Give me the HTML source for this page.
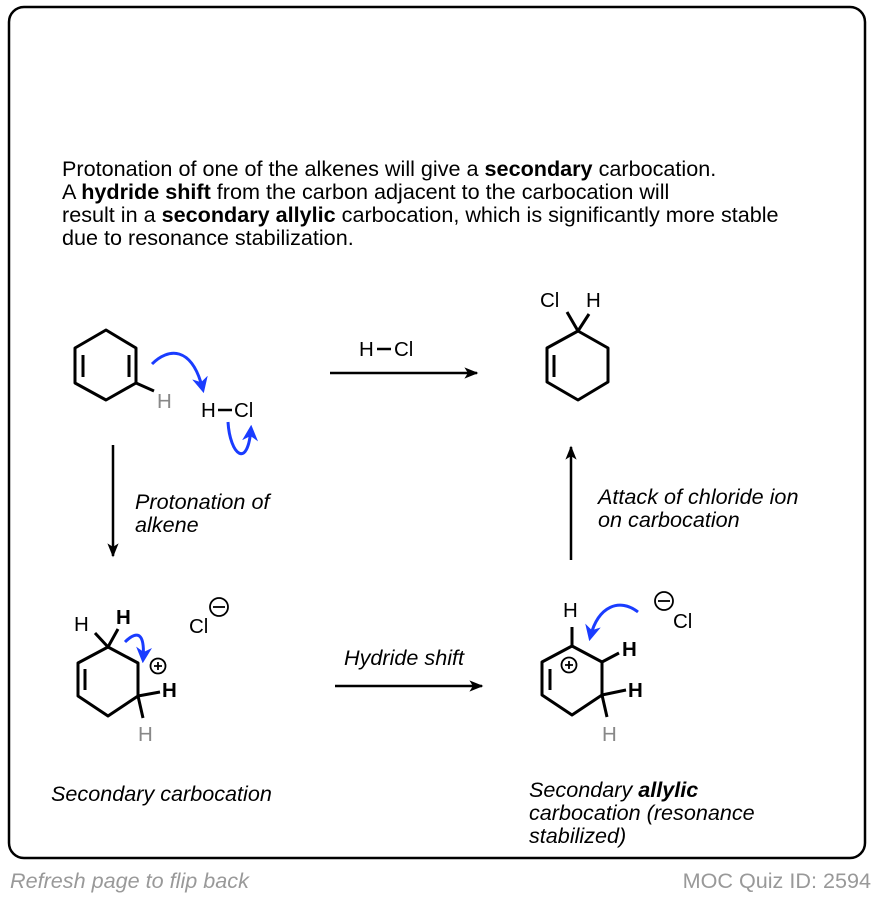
<!DOCTYPE html>
<html><head><meta charset="utf-8"><style>
body{margin:0;background:#fff;width:876px;height:898px;overflow:hidden}
svg{display:block}
text{font-family:"Liberation Sans",Arial,sans-serif}
</style></head><body>
<svg width="876" height="898" viewBox="0 0 876 898">
<defs>
<marker id="ah" viewBox="0 0 10 10" refX="9" refY="5" markerWidth="18" markerHeight="14" markerUnits="userSpaceOnUse" orient="auto"><path d="M0,1 L10,5 L0,9 L2.5,5 Z" fill="#000"/></marker>
<marker id="bh" viewBox="0 0 10 10" refX="8" refY="5" markerWidth="16" markerHeight="16" markerUnits="userSpaceOnUse" orient="auto"><path d="M0,0 L10,5 L0,10 L3,5 Z" fill="#1a3cff"/></marker>
</defs>
<rect x="9" y="7" width="856" height="851" rx="15" fill="none" stroke="#000" stroke-width="2.5"/>
<g font-size="21.6" fill="#000">
<text x="62" y="176">Protonation of one of the alkenes will give a <tspan font-weight="bold">secondary</tspan> carbocation.</text>
<text x="62" y="199">A <tspan font-weight="bold">hydride shift</tspan> from the carbon adjacent to the carbocation will</text>
<text x="62" y="222">result in a <tspan font-weight="bold">secondary allylic</tspan> carbocation, which is significantly more stable</text>
<text x="62" y="245">due to resonance stabilization.</text>
</g>
<g stroke="#000" stroke-width="3" fill="none" stroke-linejoin="round">
<path d="M106,330 L136,348 L136,383 L106,400 L75,383 L75,348 Z"/>
<path d="M83,355 L83,377 M129,355 L129,377"/>
<path d="M136,383 L154,391"/>
<path d="M578,331 L608,348 L608,382 L578,400 L547,382 L547,348 Z"/>
<path d="M554,355 L554,377 M578,331 L567,312 M578,331 L589,314"/>
<path d="M108,647 L138,663 L138,696 L108,716 L78,696 L78,663 Z"/>
<path d="M85,669 L85,690 M108,647 L95,633 M108,647 L118,629 M138,696 L160,692 M138,696 L143,718"/>
<path d="M572,646 L602,662 L602,695 L572,715 L542,695 L542,662 Z"/>
<path d="M550,669 L550,690 M572,646 L572,627 M602,662 L619,653 M602,695 L626,690 M602,695 L607,717"/>
</g>
<g stroke="#000" stroke-width="2.5" fill="none">
<path d="M330,373 L477,373" marker-end="url(#ah)"/>
<path d="M113,445 L113,556" marker-end="url(#ah)"/>
<path d="M571,560 L571,447" marker-end="url(#ah)"/>
<path d="M335,686 L482,686" marker-end="url(#ah)"/>
</g>
<g stroke="#1a3cff" stroke-width="3" fill="none">
<path d="M152,364 C168,348 192,345 203,390" marker-end="url(#bh)"/>
<path d="M228,422 C230,455 248,470 251,428" marker-end="url(#bh)"/>
<path d="M125,642 C132,635 146,625 143,660" marker-end="url(#bh)"/>
<path d="M638,612 C620,598 598,605 590,638" marker-end="url(#bh)"/>
</g>
<g font-size="20.5" fill="#000">
<text x="157" y="408" fill="#888">H</text>
<text x="201" y="417">H</text><path d="M218,410 L232,410" stroke="#000" stroke-width="2.5"/><text x="234" y="417">Cl</text>
<text x="359" y="356">H</text><path d="M377,349 L391,349" stroke="#000" stroke-width="2.5"/><text x="394" y="356">Cl</text>
<text x="540" y="307">Cl</text><text x="586" y="307">H</text>
<text x="74" y="631">H</text><text x="116" y="624" font-weight="bold">H</text>
<text x="162" y="697" font-weight="bold">H</text><text x="138" y="741" fill="#888">H</text>
<text x="189" y="633">Cl</text>
<text x="563" y="617">H</text><text x="622" y="656" font-weight="bold">H</text>
<text x="628" y="697" font-weight="bold">H</text><text x="602" y="741" fill="#888">H</text>
<text x="673" y="628">Cl</text>
</g>
<g stroke="#000" stroke-width="1.8" fill="none">
<circle cx="219" cy="607" r="9"/><path d="M213,607 L225,607"/>
<circle cx="158" cy="666" r="7.5"/><path d="M154,666 L162,666 M158,662 L158,670"/>
<circle cx="569" cy="665" r="7.5"/><path d="M565,665 L573,665 M569,661 L569,669"/>
<circle cx="664" cy="601" r="9"/><path d="M658,601 L670,601"/>
</g>
<g font-size="21.6" font-style="italic" fill="#000">
<text x="135" y="509">Protonation of</text>
<text x="135" y="532">alkene</text>
<text x="598" y="504">Attack of chloride ion</text>
<text x="598" y="527">on carbocation</text>
<text x="344" y="665">Hydride shift</text>
<text x="51" y="801">Secondary carbocation</text>
<text x="529" y="797">Secondary <tspan font-weight="bold">allylic</tspan></text>
<text x="529" y="820">carbocation (resonance</text>
<text x="529" y="843">stabilized)</text>
</g>
<text x="10" y="888" font-size="21.6" font-style="italic" fill="#999">Refresh page to flip back</text>
<text x="871" y="888" font-size="21.6" fill="#999" text-anchor="end">MOC Quiz ID: 2594</text>
</svg>
</body></html>
